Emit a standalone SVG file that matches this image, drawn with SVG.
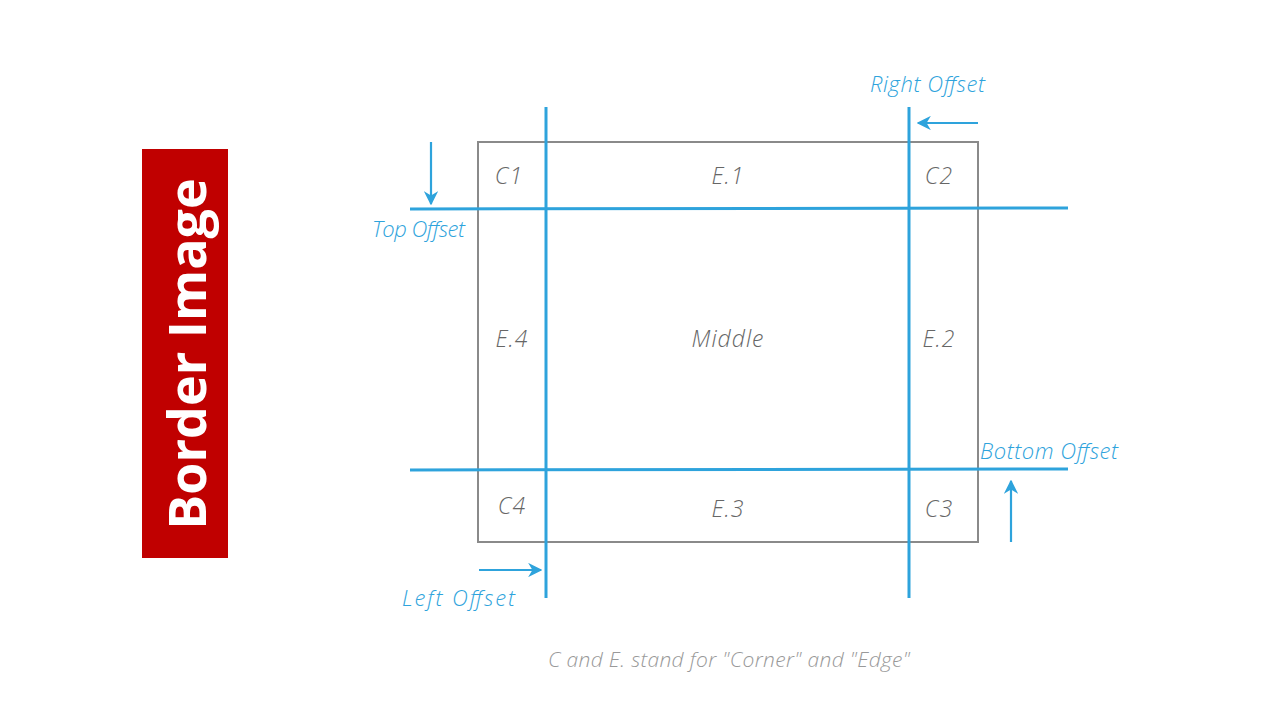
<svg xmlns="http://www.w3.org/2000/svg" width="1280" height="720" viewBox="0 0 1280 720">
<defs>
<style>
.grid{stroke:#2ea3dc;stroke-width:3;fill:none}
.arr{stroke:#2ea3dc;stroke-width:2.2;fill:none;marker-end:url(#ah)}
.box{stroke:#8a8a8a;stroke-width:2;fill:none}
.cell{font-family:"Open Sans","DejaVu Sans",sans-serif;font-style:italic;font-weight:300;font-size:23px;fill:#666;text-anchor:middle;letter-spacing:1px}
.lbl{font-family:"Open Sans","DejaVu Sans",sans-serif;font-style:italic;font-weight:300;font-size:22px;fill:#2ea3dc}
.cap{font-family:"Open Sans","DejaVu Sans",sans-serif;font-style:italic;font-weight:300;font-size:21px;fill:#999}
</style>
<marker id="ah" viewBox="0 0 10 10" refX="9" refY="5" markerWidth="6.5" markerHeight="6.5" orient="auto" markerUnits="strokeWidth">
<path d="M0,0 L10,5 L0,10 L3,5 Z" fill="#2ea3dc"/>
</marker>
</defs>
<rect width="1280" height="720" fill="#ffffff"/>
<g id="title">
<rect x="142" y="149" width="86" height="409" fill="#c00000"/>
<text transform="translate(206,354) rotate(-90)" text-anchor="middle" font-family="'Open Sans','Liberation Sans',sans-serif" font-weight="700" font-size="52" fill="#ffffff">Border Image</text>
</g>
<g id="frame">
<rect class="box" x="478" y="142" width="500" height="400"/>
</g>
<g id="connectors">
<line class="grid" x1="546" y1="107" x2="546" y2="598"/>
<line class="grid" x1="909" y1="107" x2="909" y2="598"/>
<line class="grid" x1="410" y1="209" x2="1068" y2="208"/>
<line class="grid" x1="410" y1="470" x2="1068" y2="469"/>
<line class="arr" x1="431" y1="142" x2="431" y2="204"/>
<line class="arr" x1="978" y1="123" x2="918" y2="123"/>
<line class="arr" x1="479" y1="570" x2="541" y2="570"/>
<line class="arr" x1="1011" y1="542" x2="1011" y2="481"/>
</g>
<g id="cells">
<text class="cell" x="509" y="184">C1</text>
<text class="cell" x="728" y="184">E.1</text>
<text class="cell" x="939" y="184">C2</text>
<text class="cell" x="512" y="347">E.4</text>
<text class="cell" x="728" y="347">Middle</text>
<text class="cell" x="939" y="347">E.2</text>
<text class="cell" x="512" y="514">C4</text>
<text class="cell" x="728" y="517">E.3</text>
<text class="cell" x="939" y="517">C3</text>
</g>
<g id="labels">
<text class="lbl" x="372" y="237" textLength="93" lengthAdjust="spacing">Top Offset</text>
<text class="lbl" x="870" y="92" textLength="115" lengthAdjust="spacing">Right Offset</text>
<text class="lbl" x="402" y="606" textLength="113" lengthAdjust="spacing">Left Offset</text>
<text class="lbl" x="980" y="459" textLength="138" lengthAdjust="spacing">Bottom Offset</text>
</g>
<g id="caption">
<text class="cap" x="548" y="667" textLength="362" lengthAdjust="spacing">C and E. stand for "Corner" and "Edge"</text>
</g>
</svg>
